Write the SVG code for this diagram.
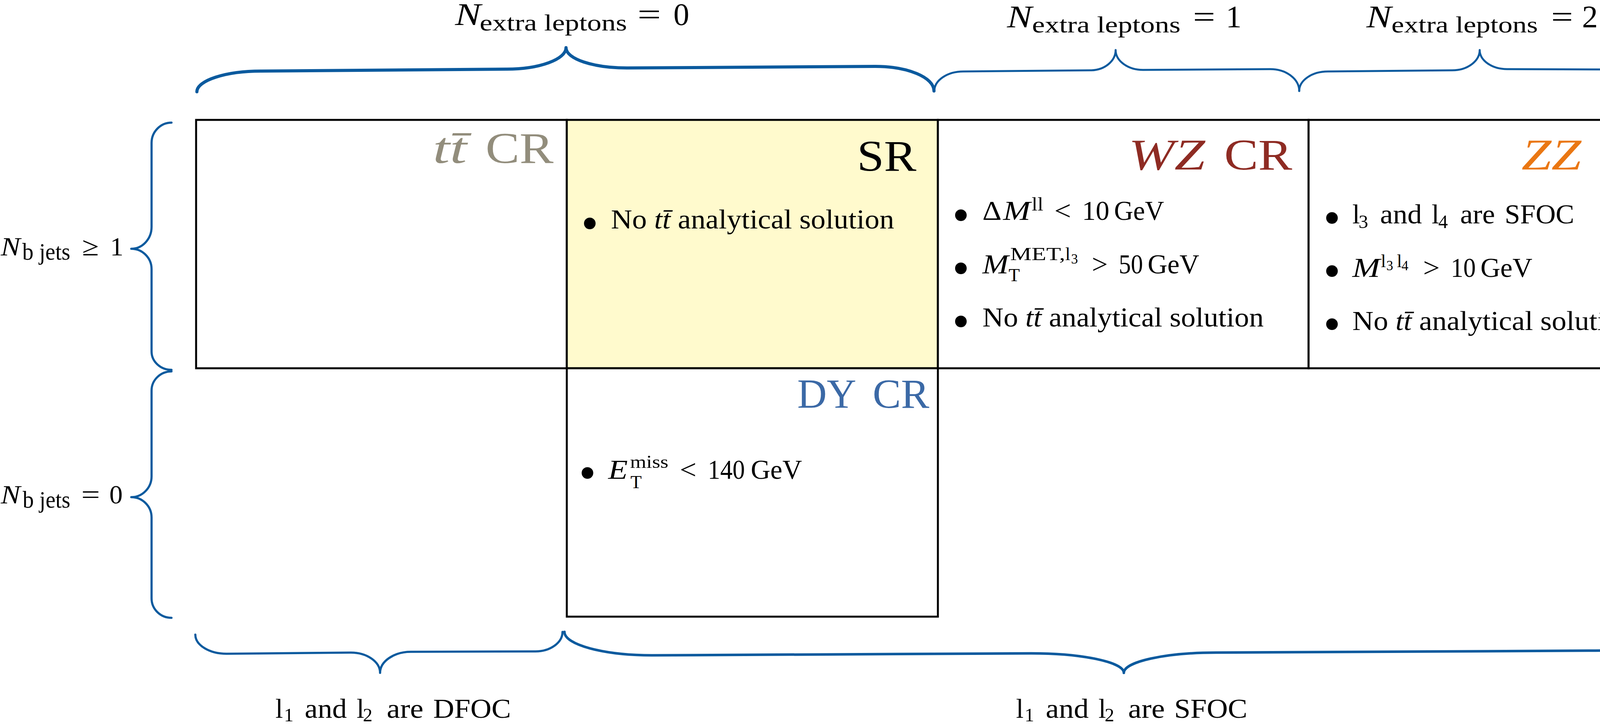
<svg xmlns="http://www.w3.org/2000/svg" width="4303" height="1859" viewBox="0 0 4303 1859">
<style>
.tx{font-family:"Liberation Serif","Times New Roman",serif;fill:#000}
.it{font-style:italic}
.cell{stroke:#000;stroke-width:5;fill:#fff}
.title{font-size:113px}
.item{font-size:70px}
.bul{font-size:125px;text-anchor:middle}
.brace{fill:none;stroke:#0B5A9E;stroke-linecap:round;stroke-linejoin:round}
</style>
<rect x="0" y="0" width="4303" height="1859" fill="#fff"/>

<g id="braces">
<path class="brace" stroke-width="8" d="M504 235 C504 206 578 182 668 182 L1297 177 C1381 177 1449 152 1449 122 C1449 151 1519 174 1605 174 L2241 170 C2324 170 2391 198 2391 233"/>
<path class="brace" stroke-width="5" d="M2392 233 C2392 205.5 2425.3 183 2466 183 L2792 180 C2827.2 180 2856 156.6 2856 128 C2856 156 2887.5 179 2926 179 L3252 177 C3292.7 177 3326 202.2 3326 233"/>
<path class="brace" stroke-width="5" d="M3326 233 C3326 205.5 3358.8 183 3399 183 L3718 180 C3756.5 180 3788 156.6 3788 128 C3788 155 3819.5 177 3858 177 L4183 178 C4222.6 178 4255 199.6 4255 226"/>
<path class="brace" stroke-width="5.5" d="M439 314 C411 314 388 337.4 388 366 L388 581 C388 611.8 364.6 637 336 637 C364.6 637 388 660.4 388 689 L388 900 C388 925.9 411 947 439 947"/>
<path class="brace" stroke-width="5.5" d="M439 951 C411 951 388 973 388 1000 L388 1220 C388 1249 364.6 1273 336 1273 C364.6 1273 388 1296.4 388 1325 L388 1532 C388 1560 411 1582 439 1582"/>
<path class="brace" stroke-width="5.5" d="M500 1625 C500 1652 536 1674 580 1674 L898 1671 C939.3 1671 973 1694.4 973 1723 C973 1693.3 1008.5 1669 1052 1669 L1371 1668 C1409 1668 1440 1645.5 1440 1618"/>
<path class="brace" stroke-width="6.5" d="M1445 1618 C1445 1651 1545.8 1678 1669 1678 L2640 1673 C2770.4 1673 2877 1695.5 2877 1723 C2877 1694.4 2983.2 1671 3113 1671 L4084 1666 C4197.3 1666 4290 1643 4290 1615"/>
</g>

<g id="ttbar-cr">
<rect class="cell" x="502" y="307" width="949" height="636"/>
<text class="tx title" style="fill:#928D7C"><tspan class="it" x="1108" y="417" textLength="87" lengthAdjust="spacingAndGlyphs">tt&#x0304;</tspan><tspan x="1243" y="417" textLength="174" lengthAdjust="spacingAndGlyphs">CR</tspan></text>
</g>

<g id="sr">
<rect class="cell" x="1451" y="307" width="950" height="636" style="fill:#FFFACD"/>
<text class="tx title" x="2194" y="437" textLength="152" lengthAdjust="spacingAndGlyphs">SR</text>
<text class="tx bul" x="1510" y="614">•</text>
<text class="tx item" x="1564" y="585" textLength="725" lengthAdjust="spacingAndGlyphs">No <tspan class="it">tt&#x0304;</tspan> analytical solution</text>
</g>

<g id="wz-cr">
<rect class="cell" x="2401" y="307" width="949" height="636"/>
<text class="tx title" style="fill:#8E2B23"><tspan class="it" x="2889" y="434" textLength="196" lengthAdjust="spacingAndGlyphs">WZ</tspan><tspan x="3134" y="434" textLength="174" lengthAdjust="spacingAndGlyphs">CR</tspan></text>
<text class="tx bul" x="2460" y="593">•</text>
<text class="tx item"><tspan x="2515" y="563" textLength="49" lengthAdjust="spacingAndGlyphs">Δ</tspan><tspan class="it" x="2568" y="563" textLength="70" lengthAdjust="spacingAndGlyphs">M</tspan><tspan x="2641" y="539" font-size="49" textLength="30" lengthAdjust="spacingAndGlyphs">ll</tspan><tspan x="2699" y="563" textLength="43" lengthAdjust="spacingAndGlyphs">&lt;</tspan><tspan x="2770" y="563" textLength="70" lengthAdjust="spacingAndGlyphs">10</tspan><tspan x="2852" y="563" textLength="128" lengthAdjust="spacingAndGlyphs">GeV</tspan></text>
<text class="tx bul" x="2460" y="729">•</text>
<text class="tx item"><tspan class="it" x="2515" y="700" textLength="67" lengthAdjust="spacingAndGlyphs">M</tspan><tspan x="2582" y="720" font-size="47">T</tspan><tspan x="2586" y="666" font-size="47" textLength="141" lengthAdjust="spacingAndGlyphs">MET,</tspan><tspan x="2727" y="666" font-size="47">l</tspan><tspan x="2742" y="675" font-size="35">3</tspan><tspan x="2795" y="700" textLength="41" lengthAdjust="spacingAndGlyphs">&gt;</tspan><tspan x="2864" y="700" textLength="62" lengthAdjust="spacingAndGlyphs">50</tspan><tspan x="2938" y="700" textLength="132" lengthAdjust="spacingAndGlyphs">GeV</tspan></text>
<text class="tx bul" x="2460" y="865">•</text>
<text class="tx item" x="2515" y="836" textLength="720" lengthAdjust="spacingAndGlyphs">No <tspan class="it">tt&#x0304;</tspan> analytical solution</text>
</g>

<g id="zz-cr">
<rect class="cell" x="3350" y="307" width="949" height="636"/>
<text class="tx title" style="fill:#EA7713"><tspan class="it" x="3895" y="434" textLength="153" lengthAdjust="spacingAndGlyphs">ZZ</tspan><tspan x="4097" y="434" textLength="175" lengthAdjust="spacingAndGlyphs">CR</tspan></text>
<text class="tx bul" x="3410" y="600">•</text>
<text class="tx item"><tspan x="3462" y="572">l</tspan><tspan x="3478" y="584" font-size="49">3</tspan><tspan x="3533" y="572" textLength="107" lengthAdjust="spacingAndGlyphs">and</tspan><tspan x="3665" y="572">l</tspan><tspan x="3682" y="584" font-size="49">4</tspan><tspan x="3738" y="572" textLength="89" lengthAdjust="spacingAndGlyphs">are</tspan><tspan x="3852" y="572" textLength="178" lengthAdjust="spacingAndGlyphs">SFOC</tspan></text>
<text class="tx bul" x="3410" y="736">•</text>
<text class="tx item"><tspan class="it" x="3462" y="709" textLength="71" lengthAdjust="spacingAndGlyphs">M</tspan><tspan x="3535" y="684" font-size="47">l</tspan><tspan x="3549" y="692" font-size="35">3</tspan><tspan x="3576" y="684" font-size="47">l</tspan><tspan x="3588" y="692" font-size="35">4</tspan><tspan x="3643" y="709" textLength="43" lengthAdjust="spacingAndGlyphs">&gt;</tspan><tspan x="3714" y="709" textLength="64" lengthAdjust="spacingAndGlyphs">10</tspan><tspan x="3790" y="709" textLength="133" lengthAdjust="spacingAndGlyphs">GeV</tspan></text>
<text class="tx bul" x="3410" y="872">•</text>
<text class="tx item" x="3462" y="845" textLength="723" lengthAdjust="spacingAndGlyphs">No <tspan class="it">tt&#x0304;</tspan> analytical solution</text>
</g>

<g id="dy-cr">
<rect class="cell" x="1451" y="943" width="950" height="636"/>
<text class="tx" font-size="106" style="fill:#3B69A6"><tspan x="2041" y="1044" textLength="151" lengthAdjust="spacingAndGlyphs">DY</tspan><tspan x="2234" y="1044" textLength="145" lengthAdjust="spacingAndGlyphs">CR</tspan></text>
<text class="tx bul" x="1504" y="1253">•</text>
<text class="tx item"><tspan class="it" x="1557" y="1226" textLength="50" lengthAdjust="spacingAndGlyphs">E</tspan><tspan x="1614" y="1250" font-size="47">T</tspan><tspan x="1613" y="1198" font-size="47" textLength="98" lengthAdjust="spacingAndGlyphs">miss</tspan><tspan x="1740" y="1226" textLength="43" lengthAdjust="spacingAndGlyphs">&lt;</tspan><tspan x="1812" y="1226" textLength="95" lengthAdjust="spacingAndGlyphs">140</tspan><tspan x="1922" y="1226" textLength="131" lengthAdjust="spacingAndGlyphs">GeV</tspan></text>
</g>

<g id="labels">
<text class="tx" font-size="81"><tspan class="it" x="1165" y="64" textLength="66" lengthAdjust="spacingAndGlyphs">N</tspan><tspan x="1228" y="78" font-size="60" textLength="377" lengthAdjust="spacingAndGlyphs">extra leptons</tspan><tspan x="1632" y="64" textLength="60" lengthAdjust="spacingAndGlyphs">=</tspan><tspan x="1724" y="64">0</tspan></text>
<text class="tx" font-size="81"><tspan class="it" x="2578" y="70" textLength="64" lengthAdjust="spacingAndGlyphs">N</tspan><tspan x="2642" y="83" font-size="60" textLength="380" lengthAdjust="spacingAndGlyphs">extra leptons</tspan><tspan x="3054" y="70" textLength="57" lengthAdjust="spacingAndGlyphs">=</tspan><tspan x="3138" y="70">1</tspan></text>
<text class="tx" font-size="81"><tspan class="it" x="3498" y="70" textLength="64" lengthAdjust="spacingAndGlyphs">N</tspan><tspan x="3562" y="83" font-size="60" textLength="375" lengthAdjust="spacingAndGlyphs">extra leptons</tspan><tspan x="3971" y="70" textLength="56" lengthAdjust="spacingAndGlyphs">=</tspan><tspan x="4050" y="70">2</tspan></text>
<text class="tx" font-size="68"><tspan class="it" x="2" y="654" textLength="50" lengthAdjust="spacingAndGlyphs">N</tspan><tspan x="57" y="665" font-size="62" textLength="123" lengthAdjust="spacingAndGlyphs">b jets</tspan><tspan x="210" y="654" textLength="43" lengthAdjust="spacingAndGlyphs">≥</tspan><tspan x="282" y="654">1</tspan></text>
<text class="tx" font-size="68"><tspan class="it" x="2" y="1289" textLength="50" lengthAdjust="spacingAndGlyphs">N</tspan><tspan x="58" y="1300" font-size="62" textLength="122" lengthAdjust="spacingAndGlyphs">b jets</tspan><tspan x="208" y="1289" textLength="48" lengthAdjust="spacingAndGlyphs">=</tspan><tspan x="280" y="1289">0</tspan></text>
<text class="tx" font-size="70"><tspan x="705" y="1838">l</tspan><tspan x="727" y="1847" font-size="49">1</tspan><tspan x="780" y="1838" textLength="108" lengthAdjust="spacingAndGlyphs">and</tspan><tspan x="913" y="1838">l</tspan><tspan x="929" y="1847" font-size="49">2</tspan><tspan x="990" y="1838" textLength="94" lengthAdjust="spacingAndGlyphs">are</tspan><tspan x="1109" y="1838" textLength="199" lengthAdjust="spacingAndGlyphs">DFOC</tspan></text>
<text class="tx" font-size="70"><tspan x="2601" y="1838">l</tspan><tspan x="2623" y="1847" font-size="49">1</tspan><tspan x="2677" y="1838" textLength="110" lengthAdjust="spacingAndGlyphs">and</tspan><tspan x="2812" y="1838">l</tspan><tspan x="2828" y="1847" font-size="49">2</tspan><tspan x="2888" y="1838" textLength="94" lengthAdjust="spacingAndGlyphs">are</tspan><tspan x="3006" y="1838" textLength="187" lengthAdjust="spacingAndGlyphs">SFOC</tspan></text>
</g>
</svg>
